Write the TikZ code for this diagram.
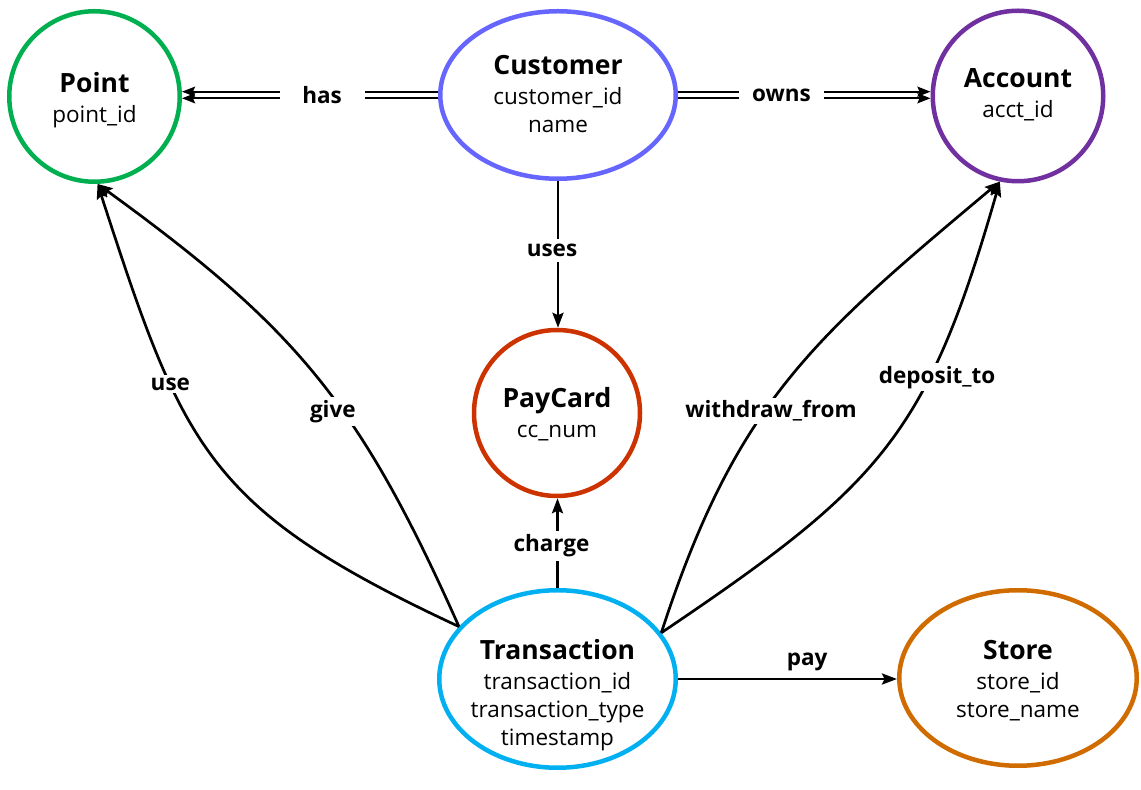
\documentclass[tikz,border=0pt]{standalone}
\usepackage{fontspec}
\setmainfont{Open Sans}
\usetikzlibrary{shapes.geometric,arrows.meta}
\definecolor{cpoint}{HTML}{00B050}
\definecolor{ccust}{HTML}{6666FF}
\definecolor{cacct}{HTML}{7030A0}
\definecolor{cpay}{HTML}{CC3300}
\definecolor{ctrans}{HTML}{00B0F0}
\definecolor{cstore}{HTML}{D06B00}
\newcommand\ttl[1]{{\fontsize{26.5}{30}\selectfont\bfseries #1}}
\begin{document}
\begin{tikzpicture}[x=1pt,y=1pt,
  ent/.style={ellipse, draw, line width=4.5pt, inner sep=0pt},
  etxt/.style={align=center, font=\fontsize{22.5}{28}\selectfont, inner sep=0pt},
  conn/.style={line width=2.7pt, -{Stealth[length=15pt,width=11pt,inset=2.5pt]}},
  dconn/.style={line width=2.2pt, -{Stealth[length=13pt,width=10pt,inset=2pt]}},
  lbl/.style={fill=white, font=\fontsize{22.5}{26}\selectfont\bfseries, inner sep=3pt},
  dlbl/.style={lbl, minimum width=85pt, minimum height=22pt},
]
\fill[white] (0,0) rectangle (1141,790);
\useasboundingbox (0,0) rectangle (1141,790);

% entities
\node[ent, draw=cpoint, minimum width=170.5pt, minimum height=170.5pt] (point) at (94.5,693.5) {};
\node[ent, draw=ccust, minimum width=235.5pt, minimum height=167.5pt] (cust) at (558,695) {};
\node[ent, draw=cacct, minimum width=170.5pt, minimum height=170.5pt] (acct) at (1018,694) {};
\node[ent, draw=cpay, minimum width=166pt, minimum height=166pt] (pay) at (557,377) {};
\node[ent, draw=ctrans, minimum width=236.5pt, minimum height=177.5pt] (trans) at (557.5,111) {};
\node[ent, draw=cstore, minimum width=237.5pt, minimum height=175.5pt] (store) at (1018,112) {};

% entity texts
\node[etxt] (pointT) at (94.5,690) {\ttl{Point}\\[2pt]point\_id};
\node[etxt] (custT) at (558,696) {\ttl{Customer}\\[2pt]customer\_id\\name};
\node[etxt] (acctT) at (1018,695.5) {\ttl{Account}\\[2pt]acct\_id};
\node[etxt] (payT) at (557,376) {\ttl{PayCard}\\[2pt]cc\_num};
\node[etxt] (transT) at (557.5,95) {\ttl{Transaction}\\[2pt]transaction\_id\\transaction\_type\\timestamp};
\node[etxt] (storeT) at (1018,109) {\ttl{Store}\\[2pt]store\_id\\store\_name};

% has (double)
\draw[dconn] ([yshift=3.3pt]cust.west) -- ([yshift=3.3pt]cust.west -| point.east);
\draw[dconn] ([yshift=-3.3pt]cust.west) -- ([yshift=-3.3pt]cust.west -| point.east);
\path (cust.west) -- (cust.west -| point.east) node[dlbl, pos=0.453] {has};

% owns (double)
\draw[dconn] ([yshift=3.3pt]cust.east) -- ([yshift=3.3pt]cust.east -| acct.west);
\draw[dconn] ([yshift=-3.3pt]cust.east) -- ([yshift=-3.3pt]cust.east -| acct.west);
\path (cust.east) -- (cust.east -| acct.west) node[dlbl, pos=0.41] {owns};

% uses
\draw[conn] (cust.south) -- node[lbl, pos=0.475, xshift=-6pt, inner ysep=5pt] {uses} (cust.south |- pay.north);

% charge
\draw[conn] (trans.north) -- node[lbl, pos=0.47, xshift=-6pt, inner ysep=4pt] {charge} (trans.north |- pay.south);

% pay
\draw[conn] (trans.east) -- node[font=\fontsize{22.5}{26}\selectfont\bfseries, pos=0.59, yshift=17pt, inner sep=0pt] {pay} (trans.east -| store.west);

% use / give
\draw[conn] (trans.152) to[out=155, in=-72, looseness=1.25] node[lbl, pos=0.68] {use} (point.-88);
\draw[conn] (trans.152) to[out=114, in=-36, looseness=1.1] node[lbl, pos=0.41, xshift=-10pt] {give} (point.-88);

% withdraw_from / deposit_to
\draw[conn] (trans.24) to[out=72, in=-140, looseness=1.1] node[lbl, pos=0.42, xshift=6pt] {withdraw\_from} (acct.-102);
\draw[conn] (trans.24) to[out=34, in=-106, looseness=1.2] node[lbl, pos=0.67, xshift=8pt] {deposit\_to} (acct.-102);
\end{tikzpicture}
\end{document}
